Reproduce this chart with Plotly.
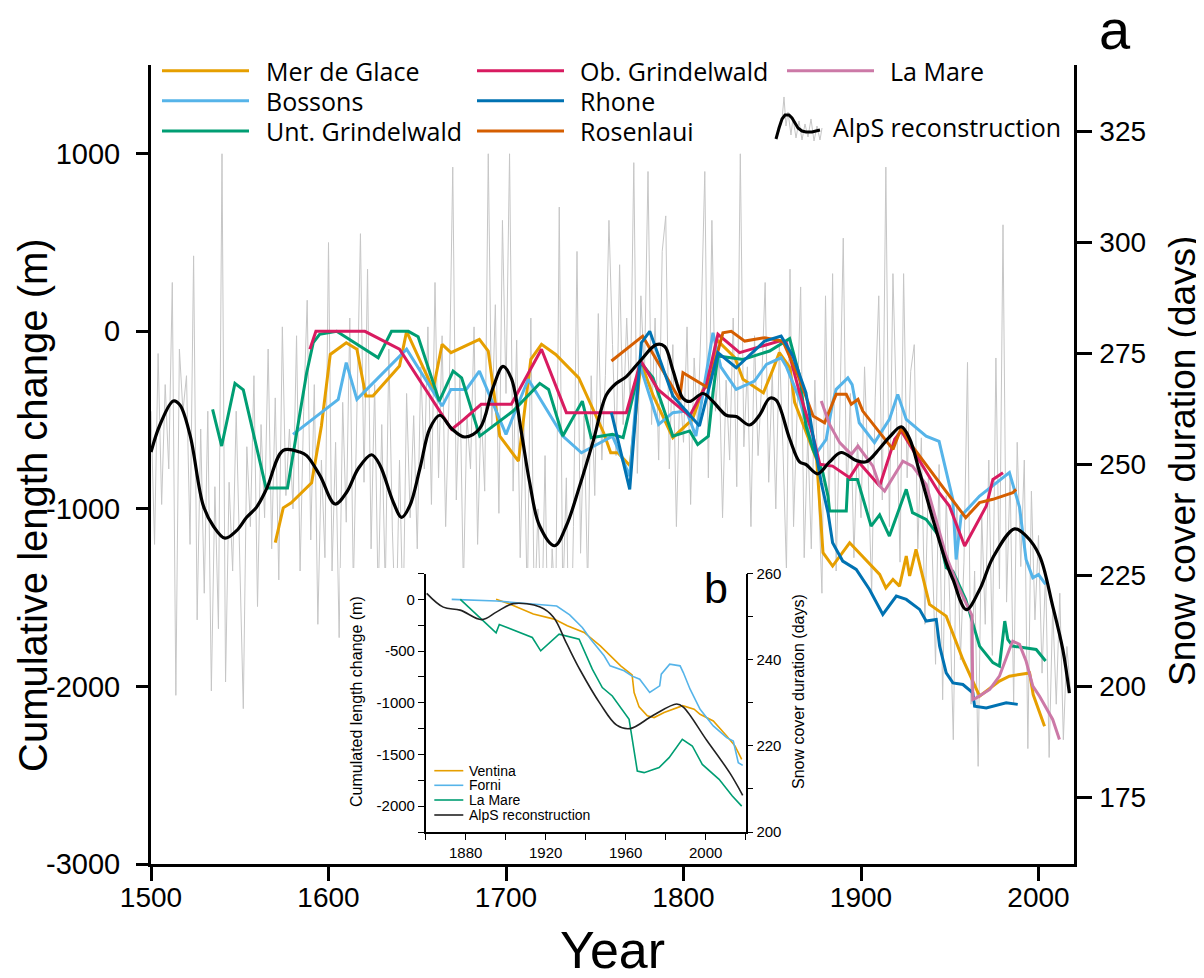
import plotly.graph_objects as go

# ---------------- DATA ----------------
# Annual snow cover duration (grey, right axis, days), every 2 years 1500-2018
gray_years = list(range(1500, 2020, 2))
gray_days = [
    262, 232, 275, 241, 268,
    249, 291, 198, 276, 262,
    270, 232, 297, 215, 258,
    221, 262, 199, 245, 213,
    320, 201, 246, 226, 262,
    228, 195, 254, 236, 270,
    218, 259, 238, 276, 231,
    265, 224, 281, 243, 258,
    240, 279, 226, 262, 287,
    233, 268, 214, 251, 229,
    300, 226, 255, 211, 264,
    237, 283, 222, 260, 302,
    246, 294, 231, 268, 219,
    259, 222, 276, 235, 210,
    251, 214, 266, 238, 261,
    231, 272, 249, 281, 241,
    291, 247, 279, 236, 266,
    317, 242, 270, 222, 261,
    249, 281, 232, 263, 244,
    320, 258, 286, 239, 305,
    266, 320, 244, 278, 229,
    262, 218, 283, 214, 240,
    209, 252, 198, 231, 215,
    308, 219, 247, 192, 236,
    298, 230, 261, 222, 270,
    243, 284, 251, 270, 305,
    277, 252, 295, 259, 283,
    263, 318, 248, 288, 270,
    316, 259, 283, 251, 298,
    306, 249, 277, 236, 268,
    255, 281, 241, 274, 258,
    283, 316, 247, 305, 262,
    274, 238, 269, 251, 283,
    245, 320, 254, 272, 236,
    279, 252, 268, 291, 246,
    271, 240, 277, 254, 226,
    294, 236, 262, 290, 229,
    257, 231, 269, 244, 221,
    288, 237, 293, 226, 260,
    301, 241, 266, 229, 255,
    238, 272, 249, 221, 265,
    288, 242, 317, 236, 293,
    262, 228, 293, 247, 271,
    277, 231, 256, 214, 248,
    232, 205, 250, 197, 243,
    219, 188, 241, 206, 228,
    273, 196, 226, 182, 239,
    214, 251, 207, 274, 222,
    304, 219, 248, 196, 255,
    227, 251, 186, 244, 215,
    234, 203, 226, 184, 218,
    196, 221, 188, 209, 199,
]

# Glacier cumulative length change (m, left axis)
mer_years = [1570, 1574.5, 1579, 1590.5, 1596, 1601, 1610, 1616, 1621, 1625, 1640, 1644, 1659, 1664,
             1669, 1685, 1690, 1696.5, 1707, 1714, 1720, 1728, 1741, 1755, 1759, 1763, 1770, 1776,
             1783, 1794, 1805, 1817, 1818.5, 1829, 1833.5, 1845, 1850, 1854, 1860, 1862.6, 1875,
             1878.6, 1884, 1893.6, 1910.5, 1914, 1918, 1921.7, 1925.5, 1927.4, 1931, 1938.6, 1948,
             1957.4, 1966.8, 1978, 1983.6, 1995, 1997, 2000.6, 2003.4]
mer_vals = [-1190, -994, -966, -853, -533, -130, -64, -101, -364, -364, -195, 0, -327, -73,
            -120, -45, -111, -590, -731, -158, -73, -130, -262, -571, -684, -684, -759, -176,
            -364, -599, -496, -158, -45, -149, -270, -346, -224, -120, -205, -400, -721,
            -1247, -1322, -1191, -1369, -1445, -1397, -1435, -1266, -1378, -1228, -1538, -1604,
            -1848, -2055, -1970, -1942, -1924, -2046, -2150, -2224]

bos_years = [1580, 1605.5, 1610, 1616, 1644, 1664, 1669, 1677.6, 1685, 1700, 1712.5, 1732, 1742.5,
             1760, 1769.7, 1775, 1786, 1794, 1801.6, 1807, 1816.6, 1821, 1829.7, 1840, 1846.7, 1855,
             1858, 1865.4, 1871, 1875, 1880.4, 1884, 1886, 1892.6, 1895, 1899, 1907.6, 1916,
             1920.7, 1925.5, 1936.7, 1944, 1951.7, 1953.6, 1956.4, 1966.8, 1983.6, 1989.3, 1993,
             1996.8, 2000, 2004]
bos_vals = [-580, -383, -176, -383, -101, -421, -327, -327, -224, -580, -270, -590, -684,
            -590, -815, -176, -524, -458, -449, -590, -8, -200, -327, -280, -186, -149,
            -200, -383, -590, -684, -608, -402, -327, -262, -300, -515, -627, -496,
            -355, -496, -590, -620, -946, -1285, -1040, -928, -796, -990, -1285,
            -1388, -1370, -1425]

unt_years = [1534.7, 1539.8, 1547.3, 1552, 1564.8, 1576.9, 1587.7, 1591.4, 1595, 1604.6, 1628, 1635.5,
             1645, 1650.5, 1662.4, 1670.2, 1675, 1685.2, 1704, 1719, 1724, 1732, 1743, 1748, 1760,
             1766, 1776, 1782.8, 1794, 1803.5, 1808, 1814, 1816.6, 1819.4, 1833.5, 1848.5, 1859.8,
             1865.4, 1869, 1873, 1878.5, 1881.4, 1882.3, 1891.7, 1892.6, 1898, 1905.7, 1910.5, 1916,
             1925.5, 1929, 1936.7, 1944, 1948, 1951.7, 1959, 1966.8, 1974.3, 1978, 1981, 1982.7,
             1985.5, 1998.7, 2004]
unt_vals = [-440, -646, -293, -330, -882, -882, -233, -64, -17, 0, -149, 0,
            0, -30, -393, -224, -262, -590, -449, -293, -327, -590, -393, -599, -580,
            -599, -176, -262, -590, -561, -637, -590, -346, -139, -158, -111, -41,
            -252, -533, -665, -796, -928, -1012, -1012, -834, -834, -1097, -1034, -1153,
            -890, -1021, -1059, -1153, -1332, -1351, -1510, -1773, -1866, -1886, -1632, -1735,
            -1773, -1792, -1857]

obg_years = [1589.5, 1592.9, 1620.5, 1640, 1669.3, 1674, 1686, 1703, 1720, 1734, 1767.8, 1776, 1785.6,
             1803.5, 1813, 1819.4, 1831.6, 1854, 1857.9, 1865.4, 1873, 1876.8, 1884, 1893.6, 1899,
             1910.5, 1919, 1922.7, 1944, 1949.8, 1958.4, 1970.6, 1974.3, 1980]
obg_vals = [-101, 0, 0, -101, -552, -515, -411, -411, -101, -458, -458, -167, -327,
            -477, -299, -17, -120, -55, -64, -346, -590, -749, -759, -824, -740,
            -871, -608, -561, -909, -984, -1209, -984, -834, -796]

rho_years = [1759.4, 1769.7, 1776.3, 1781, 1794, 1809, 1819.4, 1829.7, 1845.7, 1855, 1861.6, 1869,
             1873, 1877.6, 1881.4, 1884, 1889.7, 1897.3, 1904.8, 1912.3, 1919.9, 1925.5, 1933,
             1936.7, 1942.4, 1944.3, 1948, 1951.8, 1957.4, 1963, 1964, 1970.6, 1981.8, 1988.3]
rho_vals = [-458, -890, -64, 0, -364, -533, -120, -205, -55, -27, -139, -346,
            -590, -853, -1021, -1191, -1294, -1341, -1454, -1594, -1491, -1510, -1566,
            -1632, -1623, -1773, -1924, -1980, -1989, -2036, -2111, -2121, -2092, -2101]

ros_years = [1759.4, 1777, 1797.8, 1799.7, 1813.8, 1822.2, 1826.9, 1834.5, 1845.7, 1856, 1865.4, 1873,
             1879.5, 1886, 1891.7, 1894.5, 1898.3, 1901, 1918, 1922.7, 1927.4, 1959, 1966.8,
             1974.3, 1985.5, 1987.4]
ros_vals = [-167, -27, -383, -233, -318, -8, 0, -55, -36, -55, -270, -477,
            -515, -355, -355, -411, -383, -449, -665, -543, -627, -1050, -965,
            -946, -909, -890]

lam_years = [1877.6, 1882.3, 1888, 1894.5, 1898.3, 1906.7, 1910.5, 1913.3, 1923.6, 1929, 1936.7, 1948,
             1955.5, 1959, 1962.5, 1963, 1965, 1972.5, 1978, 1983.6, 1985.5, 1989.3, 1993, 1996.8,
             2000.6, 2008, 2011.8]
lam_vals = [-393, -524, -627, -693, -646, -759, -871, -900, -731, -759, -862, -1266,
            -1454, -1529, -1600, -2073, -2064, -2017, -1942, -1792, -1745, -1763, -1857, -1998,
            -2055, -2186, -2299]

# AlpS reconstruction (days, right axis)
alps_years = [1500, 1505, 1512.6, 1516.3, 1522, 1529.5, 1535, 1541.7, 1548.2, 1553.9, 1559.5, 1565.1,
              1574.5, 1583.9, 1587.7, 1595.2, 1603.7, 1610.3, 1616.8, 1624.3, 1629, 1636.5, 1641.2,
              1645.8, 1651.5, 1657.1, 1662.7, 1669.3, 1676.8, 1685.2, 1692.6, 1698.3, 1703, 1708.6,
              1713.3, 1718.9, 1727.4, 1734, 1741.6, 1749, 1756.6, 1762.2, 1767.8, 1775.3, 1784.7,
              1789.4, 1794, 1799.7, 1803.5, 1811, 1816.6, 1824.1, 1829.7, 1837.2, 1842.8, 1848.5,
              1852.2, 1859.8, 1865.4, 1869, 1875.6, 1882.3, 1888.8, 1897.3, 1902.9, 1910.5, 1916.1,
              1922.7, 1927.4, 1933, 1940.5, 1948, 1951.8, 1959.3, 1966.8, 1974.3, 1986.5, 1993,
              2000.6, 2008, 2013.7, 2017.4]
alps_days = [252.8, 258.9, 264.3, 263.4, 256.6, 240.7, 236.2, 233.4, 235.1, 238.1, 240.4, 244.5,
             253.2, 252.8, 252, 247.5, 241.1, 243.8, 249.1, 252.2, 249.8, 241.5, 238.1,
             240.7, 249.1, 258.1, 261.1, 258.1, 256.2, 258.1, 267.2, 272.1, 269.4, 257.4,
             246, 236.2, 231.7, 236.2, 245.3, 255.1, 265.7, 268.3, 269.8, 273.2, 277,
             276.6, 271.3, 264.9, 264.2, 266, 264.2, 261.1, 260.8, 258.9, 261.1, 264.9,
             264.5, 255.8, 250.6, 250.0, 247.9, 250.6, 252.7, 250.9, 250.6, 253.6, 256.2,
             258.5, 255.8, 248.3, 237.7, 227.9, 224.1, 217.3, 221.8, 229, 235.5, 233.9,
             229.4, 218.1, 208.3, 198.5]

# Inset (b)
ven_years = [1895.2, 1902, 1913.8, 1924.2, 1930.8, 1939.2, 1947.3, 1952.5, 1957.5, 1963.2, 1964.2, 1966.7,
             1970.8, 1974.2, 1979.2, 1988.5, 1994.2, 1997.2, 2003.8, 2010.5, 2014.7, 2018]
ven_vals = [0, -46, -142, -191, -256, -320, -450, -546, -643, -730, -901, -1040,
            -1127, -1143, -1095, -1028, -1063, -1112, -1176, -1322, -1419, -1548]

for_years = [1873, 1895.5, 1925.5, 1932, 1938.3, 1942.5, 1949.2, 1952.2, 1959.2, 1963, 1967, 1972,
             1977, 1977.8, 1982, 1987.2, 1988.8, 1992.2, 1997.2, 2003.8, 2010.5, 2013.8, 2016.3, 2018.5]
for_vals = [0, -16, -65, -150, -272, -385, -546, -643, -691, -740, -772, -901,
            -837, -724, -627, -643, -708, -869, -1063, -1224, -1338, -1370, -1580, -1606]

lmi_years = [1877.3, 1895.2, 1896.8, 1913.3, 1917.5, 1926.7, 1936.7, 1943.3, 1948.3, 1953.3, 1961.7,
             1965.8, 1969.2, 1976.7, 1981.7, 1988.3, 1993.3, 1998.3, 2006.7, 2013.3, 2018]
lmi_vals = [0, -323, -243, -369, -498, -337, -385, -675, -853, -934, -1160,
            -1660, -1676, -1627, -1531, -1354, -1418, -1596, -1741, -1902, -2000]

alpsi_years = [1860.5, 1868.8, 1877.2, 1888, 1895.5, 1903.8, 1917.2, 1923.8, 1930.5, 1937.2, 1947.2,
               1955.5, 1962.2, 1973.8, 1985.5, 1988.8, 2000.5, 2012.2, 2018.5]
alpsi_days = [255.4, 252.2, 251.5, 249.3, 251.1, 253, 252.2, 249.9, 243.7, 237.6, 229.8,
              224.8, 224, 227.1, 229.7, 229, 221.3, 213.6, 208.5]

x_ticks = [1500, 1600, 1700, 1800, 1900, 2000]
left_ticks = [-3000, -2000, -1000, 0, 1000]
right_ticks = [175, 200, 225, 250, 275, 300, 325]
inset_x_ticks = [1880, 1920, 1960, 2000]
inset_left_ticks = [-2000, -1500, -1000, -500, 0]
inset_right_ticks = [200, 220, 240, 260]

# ---------------- STYLE ----------------
FONT = "Liberation Sans, Arial, sans-serif"
LEGFONT = "Open Sans, Liberation Sans, sans-serif"
C = dict(mer="#E69F00", bos="#56B4E9", unt="#009E73", obg="#D81B60",
         rho="#0072B2", ros="#D55E00", lam="#CC79A7")

# page has an 8px body margin: figure is drawn 8px from the top-left corner
OFF = 8
PAGE_W, PAGE_H = 1204, 978
W, H = PAGE_W - OFF, PAGE_H - OFF
PL, PR, PT, PB = 151, 1074, 65, 864   # plot area in page pixels


def px(x):
    return (x - PL) / (PR - PL)


def py(y):
    return (PB - y) / (PB - PT)


fig = go.Figure()

# grey annual series (base subplot, days)
fig.add_trace(go.Scatter(x=gray_years, y=gray_days, mode="lines",
                         line=dict(color="#c6c6c6", width=1), xaxis="x", yaxis="y",
                         hoverinfo="skip"))

series = [
    (mer_years, mer_vals, C["mer"]),
    (bos_years, bos_vals, C["bos"]),
    (unt_years, unt_vals, C["unt"]),
    (obg_years, obg_vals, C["obg"]),
    (ros_years, ros_vals, C["ros"]),
    (rho_years, rho_vals, C["rho"]),
    (lam_years, lam_vals, C["lam"]),
]
for yrs, vals, col in series:
    fig.add_trace(go.Scatter(x=yrs, y=vals, mode="lines", line=dict(color=col, width=3),
                             xaxis="x", yaxis="y2", hoverinfo="skip"))

fig.add_trace(go.Scatter(x=alps_years, y=alps_days, mode="lines", line=dict(color="black", width=3.2),
                         line_shape="spline", xaxis="x", yaxis="y3", hoverinfo="skip"))

# label-only x axis (year labels sit closer to the axis than the ticks would allow)
fig.add_trace(go.Scatter(x=[], y=[], xaxis="x4", yaxis="y", hoverinfo="skip"))

# white backing for the inset panel
fig.add_trace(go.Scatter(x=[], y=[], xaxis="x2", yaxis="y4", hoverinfo="skip"))

# inset traces
for yrs, vals, col in [(ven_years, ven_vals, C["mer"]), (for_years, for_vals, C["bos"]),
                       (lmi_years, lmi_vals, C["unt"])]:
    fig.add_trace(go.Scatter(x=yrs, y=vals, mode="lines", line=dict(color=col, width=1.6),
                             xaxis="x3", yaxis="y5", hoverinfo="skip"))
fig.add_trace(go.Scatter(x=alpsi_years, y=alpsi_days, mode="lines", line=dict(color="#222", width=1.6),
                         line_shape="spline", xaxis="x3", yaxis="y6", hoverinfo="skip"))

tick_common = dict(ticks="outside", tickcolor="black", showline=True, linecolor="black",
                   showgrid=False, zeroline=False)

fig.update_layout(
    width=W, height=H,
    margin=dict(l=PL - OFF, r=PAGE_W - PR, t=PT - OFF, b=PAGE_H - PB),
    paper_bgcolor="white", plot_bgcolor="white",
    showlegend=False, hovermode=False,
    font=dict(family=FONT, color="black"),
    xaxis=dict(domain=[0, 1], range=[1500, 2020], tickvals=x_ticks, ticklen=14, tickwidth=2.5,
               linewidth=3, showticklabels=False, anchor="y", **tick_common),
    xaxis4=dict(range=[1500, 2020], overlaying="x", side="bottom", anchor="y", tickvals=x_ticks,
                ticks="", showline=False, showgrid=False, zeroline=False,
                tickfont=dict(size=28), ticklabelstandoff=14),
    yaxis=dict(domain=[0, 1], range=[160, 340], side="right", tickvals=right_ticks, ticklen=15,
               tickwidth=2.5, linewidth=2.5, tickfont=dict(size=28), anchor="x",
               ticklabelstandoff=2, **tick_common),
    yaxis2=dict(range=[-3000, 1500], overlaying="y", side="left", tickvals=left_ticks,
                ticktext=[str(v) for v in left_ticks], ticklen=12, tickwidth=2.5, linewidth=3,
                tickfont=dict(size=29), anchor="x", ticklabelstandoff=10, **tick_common),
    yaxis3=dict(range=[160, 340], overlaying="y", visible=False, anchor="x"),
    xaxis2=dict(domain=[px(340), px(815)], range=[0, 1], visible=False, anchor="y4"),
    yaxis4=dict(domain=[0.004, py(568)], range=[0, 1], visible=False, anchor="x2"),
    xaxis3=dict(domain=[px(425.7), px(745.7)], range=[1860, 2020], anchor="y5",
                tickvals=inset_x_ticks, ticklen=6, tickwidth=1.2, linewidth=1.5,
                tickfont=dict(size=15),
                minor=dict(dtick=20, tick0=1860, ticks="outside", ticklen=6, tickwidth=1.2,
                           tickcolor="black", showgrid=False),
                **tick_common),
    yaxis5=dict(domain=[py(832), py(573.5)], range=[-2250, 250], anchor="x3",
                tickvals=inset_left_ticks, ticktext=[str(v) for v in inset_left_ticks],
                ticklen=6, tickwidth=1.2, linewidth=1.5, tickfont=dict(size=15),
                minor=dict(dtick=250, tick0=0, ticks="outside", ticklen=6, tickwidth=1.2,
                           tickcolor="black", showgrid=False),
                **tick_common),
    yaxis6=dict(range=[200, 260], overlaying="y5", side="right", anchor="x3",
                tickvals=inset_right_ticks, ticklen=6, tickwidth=1.2, linewidth=1.5,
                tickfont=dict(size=15),
                minor=dict(dtick=10, tick0=200, ticks="outside", ticklen=6, tickwidth=1.2,
                           tickcolor="black", showgrid=False),
                **tick_common),
)

shapes = []
annots = []

# main legend
leg_rows = [70.7, 100.7, 131]
leg_cols = [(162, 249, 264), (477, 564, 578), (787, 874, 888)]
leg_items = [
    (0, 0, "Mer de Glace", C["mer"]), (0, 1, "Bossons", C["bos"]), (0, 2, "Unt. Grindelwald", C["unt"]),
    (1, 0, "Ob. Grindelwald", C["obg"]), (1, 1, "Rhone", C["rho"]), (1, 2, "Rosenlaui", C["ros"]),
    (2, 0, "La Mare", C["lam"]),
]
for ci, ri, name, col in leg_items:
    x0, x1, xt = leg_cols[ci]
    yy = leg_rows[ri]
    shapes.append(dict(type="line", xref="paper", yref="paper", x0=px(x0), x1=px(x1),
                       y0=py(yy), y1=py(yy), line=dict(color=col, width=3)))
    annots.append(dict(text=name, xref="paper", yref="paper", x=px(xt), y=py(yy), xanchor="left",
                       yanchor="middle", showarrow=False, font=dict(family=LEGFONT, size=25)))


def path(pts):
    return "M " + " L ".join(f"{px(a):.5f},{py(b):.5f}" for a, b in pts)


noise = [(779, 132), (782, 120), (784, 97), (786, 126), (788, 112), (791, 135), (793, 118), (796, 138),
         (799, 121), (802, 140), (805, 124), (808, 137), (811, 119), (814, 141), (817, 126), (820, 140),
         (822, 128)]
shapes.append(dict(type="path", xref="paper", yref="paper", path=path(noise),
                   line=dict(color="#c6c6c6", width=1)))
bump = [(776, 139), (779, 128), (782, 119), (785, 115), (789, 115), (792, 118), (795, 123), (798, 128),
        (802, 131), (806, 132), (812, 132), (820, 130)]
shapes.append(dict(type="path", xref="paper", yref="paper", path=path(bump),
                   line=dict(color="black", width=3)))
annots.append(dict(text="AlpS reconstruction", xref="paper", yref="paper", x=px(831), y=py(127),
                   xanchor="left", yanchor="middle", showarrow=False,
                   font=dict(family=LEGFONT, size=25)))

# inset legend
ins_rows = [770.7, 785.3, 800, 815]
ins_items = [("Ventina", C["mer"]), ("Forni", C["bos"]), ("La Mare", C["unt"]),
             ("AlpS reconstruction", "#222")]
for (name, col), yy in zip(ins_items, ins_rows):
    shapes.append(dict(type="line", xref="paper", yref="paper", x0=px(434.3), x1=px(463.3),
                       y0=py(yy), y1=py(yy), line=dict(color=col, width=1.6)))
    annots.append(dict(text=name, xref="paper", yref="paper", x=px(467), y=py(yy), xanchor="left",
                       yanchor="middle", showarrow=False, font=dict(family=FONT, size=14)))

# titles and panel labels
annots += [
    dict(text="Cumulative length change (m)", xref="paper", yref="paper", x=px(33), y=py(505),
         textangle=-90, showarrow=False, xanchor="center", yanchor="middle", font=dict(size=40)),
    dict(text="Snow cover duration (days)", xref="paper", yref="paper", x=px(1183), y=py(461),
         textangle=-90, showarrow=False, xanchor="center", yanchor="middle", font=dict(size=37)),
    dict(text="Year", xref="paper", yref="paper", x=px(612), y=py(950), showarrow=False,
         xanchor="center", yanchor="middle", font=dict(size=52)),
    dict(text="a", xref="paper", yref="paper", x=px(1115), y=py(30), showarrow=False,
         xanchor="center", yanchor="middle", font=dict(size=56)),
    dict(text="b", xref="paper", yref="paper", x=px(716), y=py(588), showarrow=False,
         xanchor="center", yanchor="middle", font=dict(size=43)),
    dict(text="Cumulated length change (m)", xref="paper", yref="paper", x=px(356), y=py(702),
         textangle=-90, showarrow=False, xanchor="center", yanchor="middle", font=dict(size=16)),
    dict(text="Snow cover duration (days)", xref="paper", yref="paper", x=px(798), y=py(692),
         textangle=-90, showarrow=False, xanchor="center", yanchor="middle", font=dict(size=16)),
]

fig.update_layout(shapes=shapes, annotations=annots)
fig.write_html("out.html")
